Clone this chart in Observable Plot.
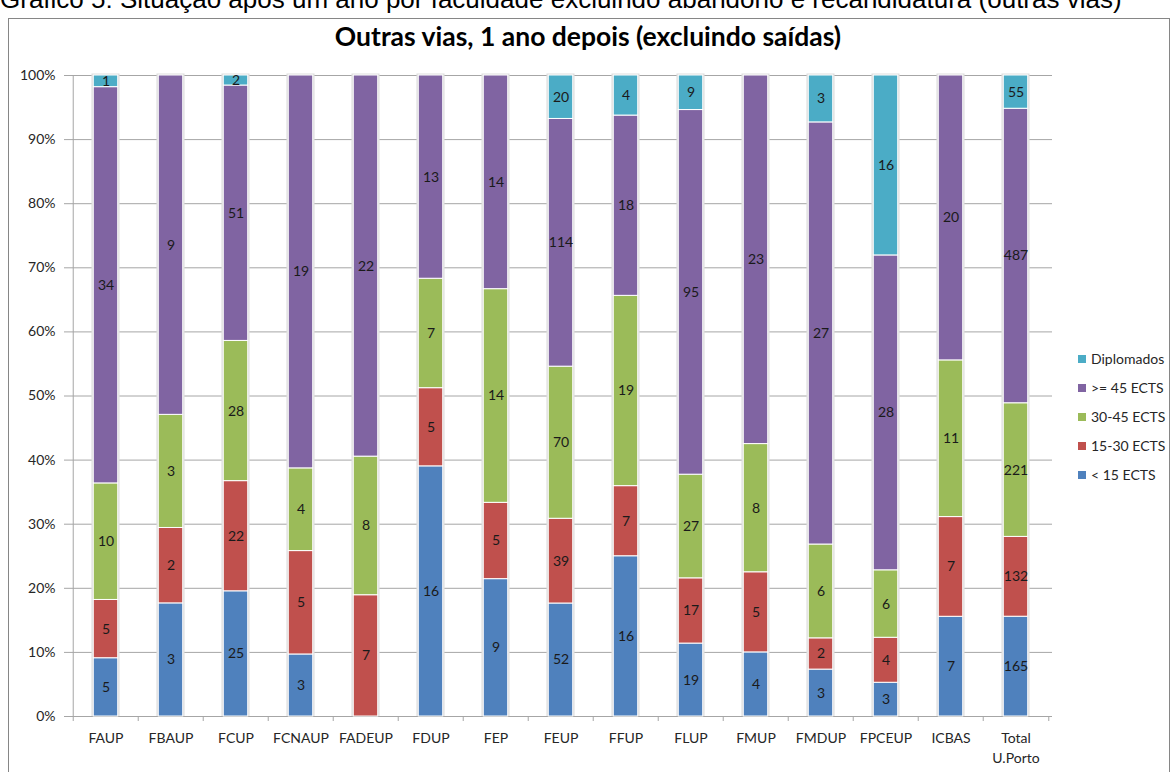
<!DOCTYPE html>
<html>
<head>
<meta charset="utf-8">
<script src="https://cdn.jsdelivr.net/npm/d3@7"></script>
<script src="https://cdn.jsdelivr.net/npm/@observablehq/plot@0.6"></script>
<style>
  html, body { margin: 0; padding: 0; background: #fff; overflow: hidden; }
  #wrap { position: relative; width: 1172px; height: 772px; overflow: hidden; }
  #caption { position: absolute; left: 0; top: -14px; font: 26px/1 "Liberation Sans", Arial, sans-serif; color: #000; white-space: nowrap; }
  #box { position: absolute; left: 8px; top: 18px; width: 1162px; height: 770px; border: 1px solid #868686; box-sizing: border-box; }
  #title { position: absolute; left: 0; width: 1176px; top: 22.5px; text-align: center; font: bold 26.5px/1 Lato, sans-serif; color: #000; white-space: nowrap; }
  #chart { position: absolute; left: 0; top: 0; }
  #legend { position: absolute; left: 1078px; top: 344px; font: 14px/29px Lato, sans-serif; color: #262626; }
  #legend .sw { display: inline-block; width: 8px; height: 8px; margin-right: 5px; vertical-align: 1px; }
</style>
</head>
<body>
<div id="wrap">
  <div id="caption">Gráfico 5: Situação após um ano por faculdade excluindo abandono e recandidatura (outras vias)</div>
  <div id="box"></div>
  <div id="chart"></div>
  <div id="title">Outras vias, 1 ano depois (excluindo saídas)</div>
  <div id="legend"></div>
</div>
<script>
const categories = ["FAUP","FBAUP","FCUP","FCNAUP","FADEUP","FDUP","FEP","FEUP","FFUP","FLUP","FMUP","FMDUP","FPCEUP","ICBAS","Total U.Porto"];
const categoryLabels = ["FAUP","FBAUP","FCUP","FCNAUP","FADEUP","FDUP","FEP","FEUP","FFUP","FLUP","FMUP","FMDUP","FPCEUP","ICBAS","Total\nU.Porto"];
const seriesNames = ["< 15 ECTS","15-30 ECTS","30-45 ECTS",">= 45 ECTS","Diplomados"];
const seriesColors = ["#4F81BD","#C0504D","#9BBB59","#8064A2","#4BACC6"];
const lt15    = [5, 3, 25, 3, 0, 16, 9, 52, 16, 19, 4, 3, 3, 7, 165];
const e15_30  = [5, 2, 22, 5, 7, 5, 5, 39, 7, 17, 5, 2, 4, 7, 132];
const e30_45  = [10, 3, 28, 4, 8, 7, 14, 70, 19, 27, 8, 6, 6, 11, 221];
const ge45    = [34, 9, 51, 19, 22, 13, 14, 114, 18, 95, 23, 27, 28, 20, 487];
const diplom  = [1, 0, 2, 0, 0, 0, 0, 20, 4, 9, 0, 3, 16, 0, 55];
const yTicks = [0, 0.1, 0.2, 0.3, 0.4, 0.5, 0.6, 0.7, 0.8, 0.9, 1];

const seriesValues = [lt15, e15_30, e30_45, ge45, diplom];
const data = [];
seriesNames.forEach((s, si) => categories.forEach((c, ci) => data.push({cat: c, series: s, value: seriesValues[si][ci]})));

const W = 1172, H = 772, ML = 69, MR = 120, MT = 75, MB = 56;
const bw = (W - ML - MR) / categories.length;
const barW = 25;
const inset = (bw - barW) / 2;
const labelOf = new Map(categories.map((c, i) => [c, categoryLabels[i]]));

const chart = Plot.plot({
  width: W, height: H,
  marginLeft: ML, marginRight: MR, marginTop: MT, marginBottom: MB,
  style: {background: "transparent", fontFamily: "Lato, sans-serif", overflow: "visible"},
  x: {domain: categories, padding: 0, label: null, axis: null},
  y: {domain: [0, 1], label: null, axis: null},
  color: {domain: seriesNames, range: seriesColors},
  marks: [
    Plot.gridY(yTicks, {stroke: "#a6a6a6", strokeOpacity: 1, strokeWidth: 1}),
    Plot.axisY(yTicks, {tickSize: 5, tickPadding: 9, tickFormat: d3.format(".0%"), fontSize: 14, fill: "#262626", stroke: "#a6a6a6", strokeOpacity: 1, label: null}),
    Plot.ruleX([categories[0]], {x: d => d, dx: -bw / 2, stroke: "#a6a6a6"}),
    Plot.ruleY([0], {stroke: "#a6a6a6"}),
    Plot.ruleX(categories, {x: d => d, dx: -bw / 2, y1: () => 0, y2: () => 0, insetBottom: -5, stroke: "#a6a6a6"}),
    Plot.ruleX([categories[categories.length - 1]], {x: d => d, dx: bw / 2, y1: () => 0, y2: () => 0, insetBottom: -5, stroke: "#a6a6a6"}),
    Plot.axisX(categories, {tickSize: 0, tickPadding: 12, tickFormat: d => labelOf.get(d), fontSize: 14, fill: "#262626", lineHeight: 1.45, label: null}),
    Plot.barY(categories, {x: d => d, y1: () => 0, y2: () => 1, fill: "#dedede", insetLeft: inset - 1.8, insetRight: inset - 1.8, insetTop: -1.5}),
    Plot.barY(data, Plot.stackY({x: "cat", y: "value", fill: "series", order: seriesNames, offset: "normalize", stroke: "white", strokeWidth: 1, insetLeft: inset, insetRight: inset})),
    Plot.text(data, Plot.filter(d => d.value > 0, Plot.stackY({x: "cat", y: "value", z: "series", order: seriesNames, offset: "normalize", text: d => String(d.value), fontSize: 14, fill: "#1a1a1a"})))
  ]
});
document.getElementById("chart").appendChild(chart);

const legend = document.getElementById("legend");
[...seriesNames].reverse().forEach(s => {
  const row = document.createElement("div");
  const sw = document.createElement("span");
  sw.className = "sw";
  sw.style.background = seriesColors[seriesNames.indexOf(s)];
  row.appendChild(sw);
  row.appendChild(document.createTextNode(s));
  legend.appendChild(row);
});
</script>
</body>
</html>
